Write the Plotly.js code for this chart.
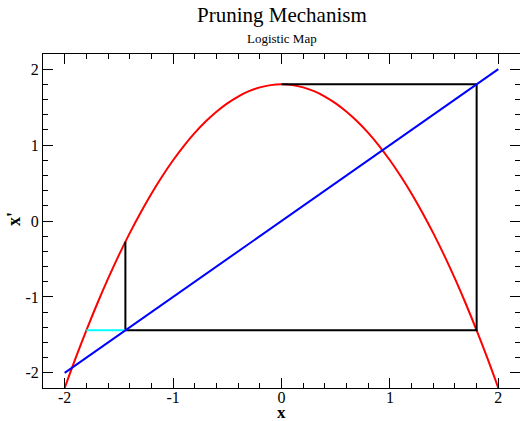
<!DOCTYPE html>
<html>
<head>
<meta charset="utf-8">
<script src="https://cdn.plot.ly/plotly-3.0.1.min.js"></script>
<style>
  html, body { margin: 0; padding: 0; background: #fff; }
  #chart { width: 520px; height: 421px; }
</style>
</head>
<body>
<div id="chart"></div>
<script>
// Logistic map x' = a - x^2 with a = 1.8, sampled at 0.1 steps
const mapX = [-2.0, -1.9, -1.8, -1.7, -1.6, -1.5, -1.4, -1.3, -1.2, -1.1, -1.0,
              -0.9, -0.8, -0.7, -0.6, -0.5, -0.4, -0.3, -0.2, -0.1, 0.0,
               0.1, 0.2, 0.3, 0.4, 0.5, 0.6, 0.7, 0.8, 0.9, 1.0,
               1.1, 1.2, 1.3, 1.4, 1.5, 1.6, 1.7, 1.8, 1.9, 2.0];
const mapY = [-2.2, -1.81, -1.44, -1.09, -0.76, -0.45, -0.16, 0.11, 0.36, 0.59, 0.8,
               0.99, 1.16, 1.31, 1.44, 1.55, 1.64, 1.71, 1.76, 1.79, 1.8,
               1.79, 1.76, 1.71, 1.64, 1.55, 1.44, 1.31, 1.16, 0.99, 0.8,
               0.59, 0.36, 0.11, -0.16, -0.45, -0.76, -1.09, -1.44, -1.81, -2.2];

// Diagonal x' = x
const diagX = [-2, 2];
const diagY = [-2, 2];

// Cobweb orbit starting at the critical point x = 0
const orbitX = [0, 1.8, 1.8, -1.44, -1.44];
const orbitY = [1.8, 1.8, -1.44, -1.44, -0.2736];

// Pruned branch back to the preimage
const pruneX = [-1.8, -1.44];
const pruneY = [-1.44, -1.44];

// Tick positions and labels (plain hyphen for negatives)
const tickVals = [-2, -1, 0, 1, 2];
const tickText = ['-2', '-1', '0', '1', '2'];

const serif = 'Liberation Serif, Times New Roman, serif';

const traces = [
  { x: mapX, y: mapY, mode: 'lines', line: { color: '#ff0000', width: 2, shape: 'spline' }, hoverinfo: 'skip' },
  { x: orbitX, y: orbitY, mode: 'lines', line: { color: '#000000', width: 2 }, hoverinfo: 'skip' },
  { x: pruneX, y: pruneY, mode: 'lines', line: { color: '#00ffff', width: 2 }, hoverinfo: 'skip' },
  { x: diagX, y: diagY, mode: 'lines', line: { color: '#0000ff', width: 2 }, hoverinfo: 'skip' }
];

const axisCommon = {
  range: [-2.2, 2.2],
  tickmode: 'array',
  tickvals: tickVals,
  ticktext: tickText,
  ticks: 'inside',
  ticklen: 10,
  tickwidth: 1,
  tickcolor: '#000',
  showline: true,
  linecolor: '#000',
  linewidth: 1,
  mirror: 'allticks',
  showgrid: false,
  zeroline: false,
  tickfont: { family: serif, size: 16, color: '#000' },
  minor: { dtick: 0.2, tick0: 0, ticks: 'inside', ticklen: 5, tickcolor: '#000', tickwidth: 1, showgrid: false },
  fixedrange: true
};

const layout = {
  width: 520,
  height: 421,
  margin: { l: 43, r: 0, t: 54, b: 33 },
  paper_bgcolor: '#fff',
  plot_bgcolor: '#fff',
  showlegend: false,
  font: { family: serif, color: '#000' },
  xaxis: Object.assign({}, axisCommon, { ticklabelstandoff: -5 }),
  yaxis: Object.assign({}, axisCommon),
  annotations: [
    { text: 'Pruning Mechanism', xref: 'paper', yref: 'paper', x: 0.5, y: 1, yshift: 39,
      xanchor: 'center', yanchor: 'middle', showarrow: false,
      font: { family: serif, size: 21, color: '#000' } },
    { text: 'Logistic Map', xref: 'paper', yref: 'paper', x: 0.5, y: 1, yshift: 16,
      xanchor: 'center', yanchor: 'middle', showarrow: false,
      font: { family: serif, size: 13, color: '#000' } },
    { text: '<b>x</b>', xref: 'paper', yref: 'paper', x: 0.5, y: 0, yshift: -24,
      xanchor: 'center', yanchor: 'middle', showarrow: false, borderpad: 0,
      font: { family: serif, size: 17, color: '#000' } },
    { text: "<b>x'</b>", xref: 'paper', yref: 'paper', x: 0, y: 0.5, xshift: -29, yshift: 2,
      xanchor: 'center', yanchor: 'middle', textangle: -90, showarrow: false,
      font: { family: serif, size: 18, color: '#000' } }
  ]
};

Plotly.newPlot('chart', traces, layout, { staticPlot: true, displayModeBar: false });
</script>
</body>
</html>
